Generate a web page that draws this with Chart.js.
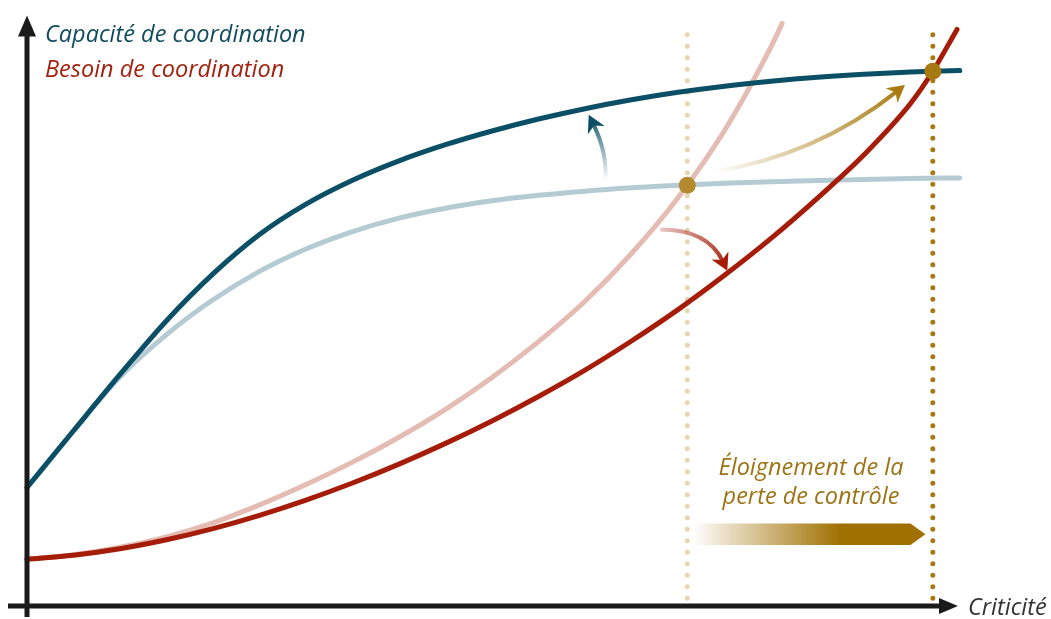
<!DOCTYPE html>
<html lang="fr">
<head>
<meta charset="utf-8">
<title>Capacité et besoin de coordination</title>
<script src="https://cdn.jsdelivr.net/npm/chart.js@4.4.1/dist/chart.umd.min.js"></script>
<style>
  html, body { margin: 0; padding: 0; background: #fff; }
  #wrap { width: 1051px; height: 619px; }
</style>
</head>
<body>
<div id="wrap"><canvas id="mycanvas" width="1051" height="619"></canvas></div>
<script>
// x = criticité, y = niveau (both on a 0-100 scale)
var critX = [0, 5, 10, 15, 20, 25, 30, 35, 40, 45, 50, 55, 60, 65, 70, 75, 80, 85, 90, 95];

var capaciteApresX = critX.concat([97.4, 100.3]);
var capaciteApresY = [19.83, 29.33, 38.75, 47.75, 55.58, 62.17, 67.25, 71.25, 74.5, 77.2, 79.5, 81.5, 83.23, 84.72, 85.97, 87, 87.83, 88.5, 89, 89.37, 89.5, 89.63];

var capaciteAvantX = critX.concat([100.3]);
var capaciteAvantY = [19.83, 29.33, 38.33, 45.42, 51.25, 56, 59.75, 62.67, 64.92, 66.58, 67.82, 68.73, 69.43, 69.98, 70.42, 70.75, 71.02, 71.22, 71.4, 71.55, 71.65];

var besoinApresX = critX.concat([97.4, 100]);
var besoinApresY = [7.83, 8.5, 9.58, 11.08, 12.95, 15.17, 17.72, 20.58, 23.75, 27.22, 30.98, 35.07, 39.48, 44.35, 49.6, 55.35, 61.52, 68.27, 75.52, 84.1, 89.5, 96.5];

var besoinAvantX = [0, 5, 10, 15, 20, 25, 30, 35, 40, 45, 50, 55, 60, 65, 70, 75, 80, 81.2];
var besoinAvantY = [7.83, 8.58, 9.83, 11.58, 13.92, 16.92, 20.33, 24.08, 28.25, 32.92, 38.25, 44.25, 51, 59, 68.33, 79.58, 93.58, 97.5];

// points de perte de contrôle (avant / après)
var perteX = [71, 97.4];
var perteY = [70.4, 89.5];
var perteColors = ['#b38b2e', '#a67a10'];
var guideColors = ['#e6d6b2', '#a87812'];
var guideRange = [1.3, 96];

function pts(xs, ys) {
    var out = [];
    for (var i = 0; i < xs.length; i++) out.push({x: xs[i], y: ys[i]});
    return out;
}

function curve(data, color, order) {
    return {
        data: data,
        order: order,
        borderColor: color,
        borderWidth: 5,
        borderCapStyle: 'round',
        pointRadius: 0,
        cubicInterpolationMode: 'monotone',
        fill: false,
        clip: false
    };
}

function guide(x, color) {
    return {
        data: [{x: x, y: guideRange[0]}, {x: x, y: guideRange[1]}],
        order: 5,
        borderColor: color,
        borderWidth: 5,
        borderCapStyle: 'round',
        borderDash: [0, 11.5],
        pointRadius: 0,
        tension: 0,
        fill: false,
        clip: false
    };
}

// annotation arrows, in data units: start, control, tip
var arrows = [
    {p0: [62.2, 71.3], c: [62.4, 75.9], p1: [60.4, 82.2], from: 'rgba(11,79,102,0)', to: '#0b4f66'},
    {p0: [68.1, 63], c: [73.2, 63], p1: [75.3, 56.1], from: 'rgba(165,28,8,0.25)', to: '#a51c08'},
    {p0: [73.8, 72.7], c: [84.9, 75.4], p1: [94.4, 87.2], from: 'rgba(168,122,16,0)', to: '#a87a10'}
];

var decor = {
    id: 'decor',
    afterDatasetsDraw: function(chart) {
        var ctx = chart.ctx;
        var a = chart.chartArea;
        var xs = chart.scales.x, ys = chart.scales.y;
        function P(v) { return {x: xs.getPixelForValue(v[0]), y: ys.getPixelForValue(v[1])}; }

        ctx.save();
        // axes
        ctx.strokeStyle = '#1a1a1a';
        ctx.fillStyle = '#1a1a1a';
        ctx.lineWidth = 5;
        ctx.beginPath();
        ctx.moveTo(a.left, a.bottom + 11);
        ctx.lineTo(a.left, a.top + 24);
        ctx.moveTo(a.left - 19, a.bottom);
        ctx.lineTo(a.right - 15, a.bottom);
        ctx.stroke();
        ctx.beginPath();
        ctx.moveTo(a.left, a.top + 7);
        ctx.lineTo(a.left - 9, a.top + 28);
        ctx.lineTo(a.left + 9, a.top + 28);
        ctx.closePath();
        ctx.fill();
        ctx.beginPath();
        ctx.moveTo(a.right + 1, a.bottom);
        ctx.lineTo(a.right - 18, a.bottom - 8);
        ctx.lineTo(a.right - 18, a.bottom + 8);
        ctx.closePath();
        ctx.fill();

        // curved arrows
        arrows.forEach(function(ar) {
            var p0 = P(ar.p0), c = P(ar.c), p1 = P(ar.p1);
            var head = 17;
            var ang = Math.atan2(p1.y - c.y, p1.x - c.x);
            var end = {x: p1.x - Math.cos(ang) * head * 0.6, y: p1.y - Math.sin(ang) * head * 0.6};
            var g = ctx.createLinearGradient(p0.x, p0.y, p1.x, p1.y);
            g.addColorStop(0, ar.from);
            g.addColorStop(1, ar.to);
            ctx.strokeStyle = g;
            ctx.lineWidth = 4;
            ctx.lineCap = 'butt';
            ctx.beginPath();
            ctx.moveTo(p0.x, p0.y);
            ctx.quadraticCurveTo(c.x, c.y, end.x, end.y);
            ctx.stroke();
            ctx.save();
            ctx.fillStyle = ar.to;
            ctx.translate(p1.x, p1.y);
            ctx.rotate(ang);
            ctx.beginPath();
            ctx.moveTo(0, 0);
            ctx.lineTo(-head, -head * 0.55);
            ctx.lineTo(-head * 0.7, 0);
            ctx.lineTo(-head, head * 0.55);
            ctx.closePath();
            ctx.fill();
            ctx.restore();
        });

        // bottom arrow (éloignement)
        var l = xs.getPixelForValue(71.6), r = xs.getPixelForValue(95), tip = xs.getPixelForValue(96.6);
        var top = ys.getPixelForValue(13.8), bot = ys.getPixelForValue(10.2), mid = (top + bot) / 2;
        var gb = ctx.createLinearGradient(l, 0, r, 0);
        gb.addColorStop(0, 'rgba(160,112,0,0)');
        gb.addColorStop(0.68, '#a07000');
        gb.addColorStop(1, '#a07000');
        ctx.fillStyle = gb;
        ctx.beginPath();
        ctx.moveTo(l, top);
        ctx.lineTo(r, top);
        ctx.lineTo(tip, mid);
        ctx.lineTo(r, bot);
        ctx.lineTo(l, bot);
        ctx.closePath();
        ctx.fill();

        // texts
        ctx.textBaseline = 'alphabetic';
        ctx.font = 'italic 23.5px "Open Sans"';
        ctx.textAlign = 'left';
        ctx.fillStyle = '#114b5f';
        ctx.fillText('Capacité de coordination', 45, 42);
        ctx.fillStyle = '#a3220f';
        ctx.fillText('Besoin de coordination', 45, 77);
        ctx.fillStyle = '#9c7415';
        ctx.textAlign = 'center';
        var cx = xs.getPixelForValue(84.3);
        ctx.fillText('Éloignement de la', cx, 475);
        ctx.fillText('perte de contrôle', cx, 504);
        ctx.fillStyle = '#333333';
        ctx.textAlign = 'left';
        ctx.fillText('Criticité', 968, 615);
        ctx.restore();
    }
};

var ctx = document.getElementById('mycanvas');
var myChart = new Chart(ctx, {
    type: 'line',
    data: {
        datasets: [
            {
                data: pts(perteX, perteY),
                order: 0,
                pointRadius: 8.5,
                pointBackgroundColor: perteColors,
                pointBorderWidth: 0,
                showLine: false,
                clip: false
            },
            curve(pts(besoinApresX, besoinApresY), '#a51c08', 1),
            curve(pts(capaciteApresX, capaciteApresY), '#0b4f66', 2),
            curve(pts(besoinAvantX, besoinAvantY), '#e4bcb4', 3),
            curve(pts(capaciteAvantX, capaciteAvantY), '#b5cbd3', 4),
            guide(perteX[0], guideColors[0]),
            guide(perteX[1], guideColors[1])
        ]
    },
    options: {
        responsive: false,
        animation: false,
        layout: { padding: { left: 27, right: 94, top: 6, bottom: 13 } },
        plugins: { legend: { display: false }, tooltip: { enabled: false } },
        scales: {
            x: { type: 'linear', min: 0, max: 100, display: false },
            y: { type: 'linear', min: 0, max: 100, display: false }
        }
    },
    plugins: [decor]
});
</script>
</body>
</html>
